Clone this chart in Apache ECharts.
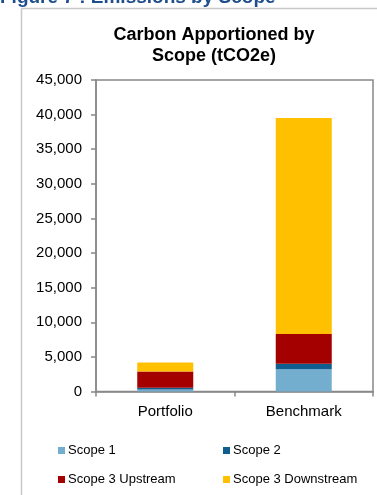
<!DOCTYPE html>
<html><head><meta charset="utf-8">
<script src="https://cdn.jsdelivr.net/npm/echarts@6/dist/echarts.min.js"></script>
<style>html,body{margin:0;padding:0;background:#fff}#c{width:377px;height:495px}</style>
</head><body><div id="c"></div>
<script>
const categories = ['Portfolio', 'Benchmark'];
const scope1 = [300, 3200];
const scope2 = [250, 800];
const scope3Up = [2350, 4300];
const scope3Down = [1300, 31200];
const seriesNames = ['Scope 1', 'Scope 2', 'Scope 3 Upstream', 'Scope 3 Downstream'];
const yTicks = [0, 5000, 10000, 15000, 20000, 25000, 30000, 35000, 40000, 45000];

const colors = ['#74AECF', '#0F5E8F', '#A50000', '#FFC000'];
const font = 'Liberation Sans, Arial, sans-serif';
const chart = echarts.init(document.getElementById('c'));
const dataSets = [scope1, scope2, scope3Up, scope3Down];
const legendPos = [[58, 444], [223, 444], [58, 473], [223, 473]];
chart.setOption({
  animation: false,
  color: colors,
  title: {
    text: 'Carbon Apportioned by\nScope (tCO2e)',
    left: 209, top: 20, textAlign: 'center',
    textStyle: {fontFamily: font, fontSize: 18, fontWeight: 'bold', color: '#000', lineHeight: 21}
  },
  graphic: [
    {type: 'text', left: 0, top: -12, style: {text: 'Figure 7 : Emissions by Scope', font: 'bold 19px ' + font, fill: '#1F4E8C'}},
    {type: 'line', shape: {x1: 21.5, y1: 8.5, x2: 377, y2: 8.5}, style: {stroke: '#C8C8C8', lineWidth: 1.5}},
    {type: 'line', shape: {x1: 21.5, y1: 8.5, x2: 21.5, y2: 495}, style: {stroke: '#C8C8C8', lineWidth: 1.5}}
  ],
  grid: {left: 96, right: 4, top: 80, bottom: 103.5, show: true, borderColor: '#888', borderWidth: 1.5, backgroundColor: 'transparent'},
  legend: seriesNames.map((n, i) => ({
    data: [n], left: legendPos[i][0], top: legendPos[i][1], padding: 0,
    itemWidth: 7, itemHeight: 7, icon: 'rect',
    textStyle: {fontFamily: font, fontSize: 13, color: '#000', padding: [0, 0, 0, -2]}
  })),
  xAxis: {
    type: 'category', data: categories,
    axisLine: {lineStyle: {color: '#888', width: 1.5}},
    axisTick: {show: true, length: 5, lineStyle: {color: '#888', width: 1.5}},
    axisLabel: {fontFamily: font, fontSize: 15, color: '#000', margin: 13}
  },
  yAxis: {
    type: 'value', min: yTicks[0], max: yTicks[yTicks.length - 1], interval: 5000,
    axisLine: {show: true, lineStyle: {color: '#888', width: 1.5}},
    axisTick: {show: true, length: 5, lineStyle: {color: '#888', width: 1.5}},
    splitLine: {show: false},
    axisLabel: {fontFamily: font, fontSize: 15, color: '#000', margin: 14,
      formatter: v => v.toLocaleString('en-US')}
  },
  series: seriesNames.map((n, i) => ({
    name: n, type: 'bar', stack: 'total', data: dataSets[i], barWidth: 56
  }))
});
</script></body></html>
